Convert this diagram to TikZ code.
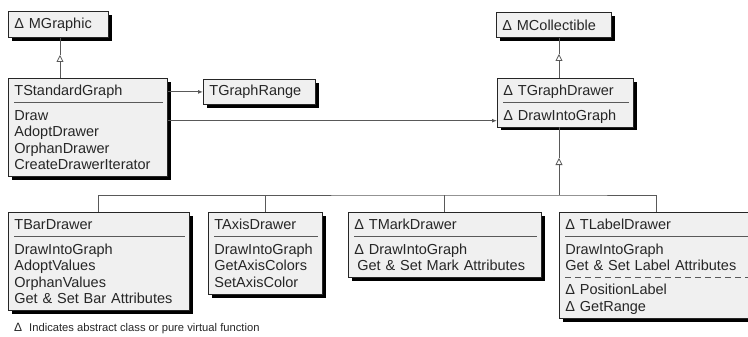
\documentclass[tikz,border=0pt]{standalone}
\usepackage{fontspec}
\setmainfont{Liberation Sans}
\usetikzlibrary{shapes.multipart,shadows,arrows.meta,positioning}
\newcommand{\up}{\rule[-3.5pt]{0pt}{17.5pt}}
\newcommand{\dn}{\rule[-3.5pt]{0pt}{3.5pt}}

\begin{document}
\begin{tikzpicture}[x=1pt,y=-1pt,
	every node/.style={font=\fontsize{14.5}{16.5}\selectfont, text=black!85},
	cls/.style={draw=black!85, line width=0.8pt, fill=black!6, anchor=north west,
		drop shadow={shadow xshift=3.5pt, shadow yshift=-3.5pt, fill=black, opacity=1},
		inner xsep=6pt, inner ysep=3pt, align=left},
	umlbox/.style={cls, rectangle split, rectangle split parts=#1, rectangle split draw splits=false},
	sepline/.style={draw=black!65, line width=0.7pt},
	con/.style={draw=black!65, line width=1pt},
	inh/.style={con, -{Triangle[open, width=7pt, length=7pt, line width=0.8pt]}},
	assoc/.style={con, -{Latex[length=5pt, width=4pt]}}]
	\clip (0,0) rectangle (748,337);
	\node[cls, text width=88pt, minimum height=26pt] (0) at (8, 11) {Δ MGraphic};
	\node[umlbox=2, text width=147pt] (1) at (8, 78) {\up TStandardGraph
		\nodepart{two}\up Draw\\AdoptDrawer\\OrphanDrawer\\CreateDrawerIterator\dn};
	\node[cls, text width=100pt, minimum height=25pt] (2) at (203, 79) {TGraphRange};
	\node[cls, text width=103pt, minimum height=25pt] (3) at (496, 12) {Δ MCollectible};
	\node[umlbox=2, text width=124pt] (4) at (497, 78) {\up Δ TGraphDrawer
		\nodepart{two}\up Δ DrawIntoGraph};
	\node[umlbox=2, text width=169pt] (5) at (8, 212) {\up TBarDrawer
		\nodepart{two}\up DrawIntoGraph\\AdoptValues\\OrphanValues\\Get \& Set Bar Attributes\dn};
	\node[umlbox=2, text width=102pt] (6) at (208, 212) {\up TAxisDrawer
		\nodepart{two}\up DrawIntoGraph\\GetAxisColors\\SetAxisColor\dn};
	\node[umlbox=2, text width=181pt] (7) at (348, 212) {\up Δ TMarkDrawer
		\nodepart{two}\up Δ DrawIntoGraph\\\hspace*{3pt}Get \& Set Mark Attributes\dn};
	\node[umlbox=3, text width=183pt] (8) at (559, 212) {\up Δ TLabelDrawer
		\nodepart{two}\up DrawIntoGraph\\Get \& Set Label Attributes\dn
		\nodepart{three}\up Δ PositionLabel\\Δ GetRange\dn};
	\node[anchor=west, inner sep=0pt] (9) at (14, 329) {{\fontsize{12}{14}\selectfont Δ}\hspace{7pt}{\fontsize{11.2}{13}\selectfont Indicates abstract class or pure virtual function}};
	\draw[sepline] ([xshift=6pt]1.text split west) -- ([xshift=-5pt]1.text split east);
	\draw[sepline] ([xshift=6pt]4.text split west) -- ([xshift=-5pt]4.text split east);
	\draw[sepline] ([xshift=6pt]5.text split west) -- ([xshift=-5pt]5.text split east);
	\draw[sepline] ([xshift=6pt]6.text split west) -- ([xshift=-5pt]6.text split east);
	\draw[sepline] ([xshift=6pt]7.text split west) -- ([xshift=-5pt]7.text split east);
	\draw[sepline] ([xshift=6pt]8.text split west) -- ([xshift=-5pt]8.text split east);
	\draw[sepline, dash pattern=on 6pt off 4pt] ([xshift=6pt]8.two split west) -- (8.two split east);
	\coordinate (10) at (60, 55);
	\coordinate (11) at (559, 54);
	\coordinate (12) at (559, 158);
	\coordinate (13) at (559, 195);
	\coordinate (14) at ([yshift=-18pt]4.west);
	\draw[inh] (10 |- 1.north) -- (10);
	\draw[con] (10) -- (10 |- 0.south);
	\draw[inh] (11 |- 4.north) -- (11);
	\draw[con] (11) -- (11 |- 3.south);
	\draw[inh] (13) -- (12);
	\draw[con] (12) -- (12 |- 4.south);
	\draw[con] (5.north) |- (13) -| (8.north);
	\draw[con] (6.north) -- (6.north |- 13);
	\draw[con] (7.north) -- (7.north |- 13);
	\draw[assoc] (1.east |- 2.west) -- (2.west);
	\draw[assoc] (1.east |- 14) -- (14);
\end{tikzpicture}
\end{document}
